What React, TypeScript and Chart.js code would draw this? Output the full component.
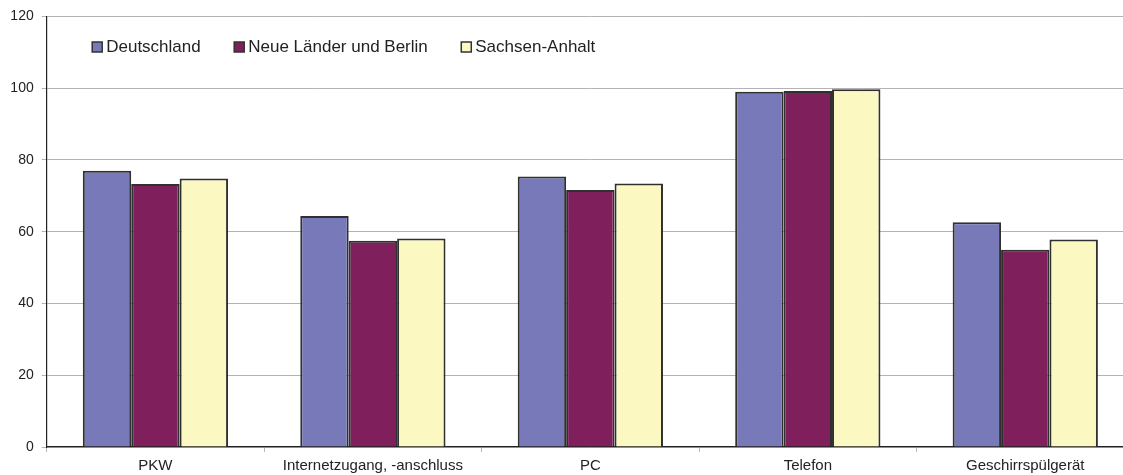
import React, { useEffect, useRef } from "react";
import { Chart, registerables } from "chart.js";

Chart.register(...registerables);

const categories = ["PKW", "Internetzugang, -anschluss", "PC", "Telefon", "Geschirrspülgerät"];
const seriesNames = ["Deutschland", "Neue Länder und Berlin", "Sachsen-Anhalt"];
const deutschland = [77.0, 64.4, 75.4, 99.0, 62.6];
const neueLaender = [73.3, 57.5, 71.6, 99.2, 55.0];
const sachsenAnhalt = [74.8, 58.1, 73.4, 99.7, 57.8];
const seriesColors = ["#7779B9", "#7F1F5C", "#FBF8C2"];
const yTicks = [0, 20, 40, 60, 80, 100, 120];

const FONT = "'Liberation Sans', Arial, sans-serif";

const insideLegend = {
  id: "insideLegend",
  afterDraw(chart: any) {
    const ctx = chart.ctx;
    const area = chart.chartArea;
    ctx.save();
    ctx.font = `17px ${FONT}`;
    ctx.textBaseline = "middle";
    ctx.textAlign = "left";
    let x = area.left + 45.5;
    const y = 47;
    chart.data.datasets.forEach((ds: any) => {
      ctx.fillStyle = ds.backgroundColor;
      ctx.fillRect(x, y - 5, 10, 10);
      ctx.strokeStyle = "#333333";
      ctx.lineWidth = 1.5;
      ctx.strokeRect(x, y - 5, 10, 10);
      ctx.fillStyle = "#222222";
      ctx.fillText(ds.label, x + 14, y);
      x += 14 + ctx.measureText(ds.label).width + 33.5;
    });
    ctx.restore();
  },
};

export default function App() {
  const ref = useRef<HTMLCanvasElement>(null);
  useEffect(() => {
    document.body.style.overflow = "hidden";
    const values = [deutschland, neueLaender, sachsenAnhalt];
    const chart = new Chart(ref.current!, {
      type: "bar",
      data: {
        labels: categories,
        datasets: seriesNames.map((name, i) => ({
          label: name,
          data: values[i],
          backgroundColor: seriesColors[i],
          borderColor: "#303030",
          borderWidth: 2,
          barPercentage: 1,
          categoryPercentage: 0.668,
        })),
      },
      options: {
        animation: false,
        responsive: false,
        maintainAspectRatio: false,
        layout: { padding: { top: 15, right: 0, bottom: 0, left: 0 } },
        plugins: { legend: { display: false }, tooltip: { enabled: false } },
        scales: {
          x: {
            afterFit: (s: any) => { s.height = 28; },
            grid: {
              offset: true,
              drawOnChartArea: false,
              drawTicks: true,
              tickLength: 5,
              color: "#b8b8b8",
            },
            border: { color: "#222222", width: 1.2 },
            ticks: {
              color: "#222222",
              font: { family: FONT, size: 15 },
              padding: 5,
              maxRotation: 0,
              autoSkip: false,
            },
          },
          y: {
            min: 0,
            max: 120,
            afterFit: (s: any) => { s.width = 46.7; },
            afterBuildTicks: (s: any) => { s.ticks = yTicks.map((v) => ({ value: v })); },
            grid: { color: "#b3b3b3", lineWidth: 1, tickLength: 5, drawTicks: true },
            border: { color: "#222222", width: 1.2 },
            ticks: {
              color: "#222222",
              font: { family: FONT, size: 14 },
              padding: 8,
            },
          },
        },
      },
      plugins: [insideLegend],
    });
    return () => chart.destroy();
  }, []);
  return (
    <div style={{ position: "fixed", left: 0, top: 0, width: 1134, height: 475 }}>
      <canvas ref={ref} width={1134} height={475} style={{ width: 1134, height: 475 }} />
    </div>
  );
}
